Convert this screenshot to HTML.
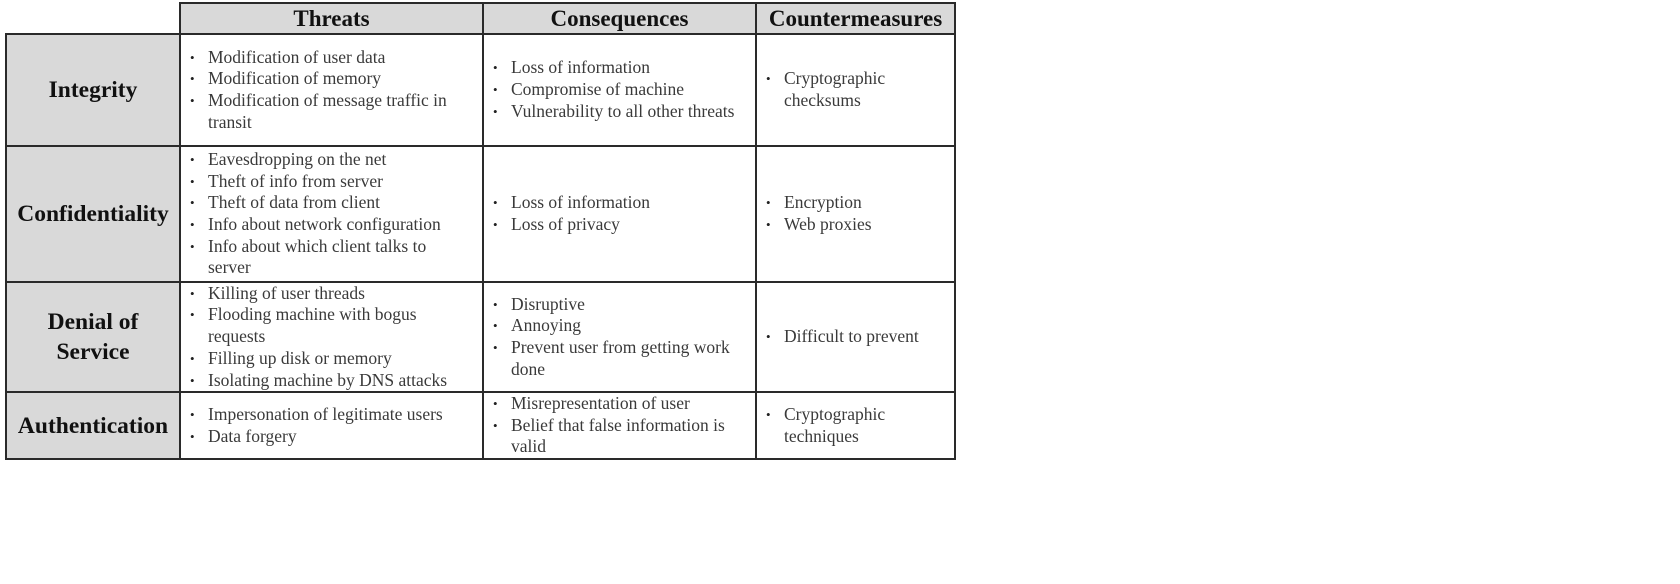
<!DOCTYPE html>
<html><head><meta charset="utf-8"><style>
body{margin:0;width:1680px;height:584px;background:#fff;position:relative;overflow:hidden;font-family:"Liberation Serif",serif;}
.c{position:absolute;box-sizing:border-box;border:2px solid #2a2a2a;display:flex;align-items:center;}
.g{background:#d9d9d9;justify-content:center;text-align:center;font-weight:bold;color:#111;font-size:23.5px;line-height:30px;}
.h{font-size:23px;}
.w{background:#fff;}
ul{margin:0;padding:0 0 0 27px;list-style:none;color:#3a3a3a;font-size:17.5px;line-height:21.7px;}
li{position:relative;}
li:before{content:"•";position:absolute;left:-18px;font-size:13px;color:#222;}
.t{width:265px}.q{width:238px}.m{width:122px}
</style></head><body>
<div class="c g h" style="left:179px;top:2px;width:305px;height:33px;">Threats</div>
<div class="c g h" style="left:482px;top:2px;width:275px;height:33px;">Consequences</div>
<div class="c g h" style="left:755px;top:2px;width:201px;height:33px;">Countermeasures</div>

<div class="c g" style="left:5px;top:33px;width:176px;height:114px;">Integrity</div>
<div class="c w" style="left:179px;top:33px;width:305px;height:114px;"><ul class="t"><li>Modification of user data</li><li>Modification of memory</li><li>Modification of message traffic in transit</li></ul></div>
<div class="c w" style="left:482px;top:33px;width:275px;height:114px;"><ul class="q"><li>Loss of information</li><li>Compromise of machine</li><li>Vulnerability to all other threats</li></ul></div>
<div class="c w" style="left:755px;top:33px;width:201px;height:114px;"><ul class="m"><li>Cryptographic checksums</li></ul></div>

<div class="c g" style="left:5px;top:145px;width:176px;height:138px;">Confidentiality</div>
<div class="c w" style="left:179px;top:145px;width:305px;height:138px;"><ul class="t"><li>Eavesdropping on the net</li><li>Theft of info from server</li><li>Theft of data from client</li><li>Info about network configuration</li><li>Info about which client talks to server</li></ul></div>
<div class="c w" style="left:482px;top:145px;width:275px;height:138px;"><ul class="q"><li>Loss of information</li><li>Loss of privacy</li></ul></div>
<div class="c w" style="left:755px;top:145px;width:201px;height:138px;"><ul class="m"><li>Encryption</li><li>Web proxies</li></ul></div>

<div class="c g" style="left:5px;top:281px;width:176px;height:112px;">Denial of<br>Service</div>
<div class="c w" style="left:179px;top:281px;width:305px;height:112px;"><ul class="t"><li>Killing of user threads</li><li>Flooding machine with bogus requests</li><li>Filling up disk or memory</li><li>Isolating machine by DNS attacks</li></ul></div>
<div class="c w" style="left:482px;top:281px;width:275px;height:112px;"><ul class="q"><li>Disruptive</li><li>Annoying</li><li>Prevent user from getting work done</li></ul></div>
<div class="c w" style="left:755px;top:281px;width:201px;height:112px;"><ul style="width:170px"><li>Difficult to prevent</li></ul></div>

<div class="c g" style="left:5px;top:391px;width:176px;height:69px;">Authentication</div>
<div class="c w" style="left:179px;top:391px;width:305px;height:69px;"><ul class="t"><li>Impersonation of legitimate users</li><li>Data forgery</li></ul></div>
<div class="c w" style="left:482px;top:391px;width:275px;height:69px;"><ul class="q"><li>Misrepresentation of user</li><li>Belief that false information is valid</li></ul></div>
<div class="c w" style="left:755px;top:391px;width:201px;height:69px;"><ul class="m"><li>Cryptographic techniques</li></ul></div>
</body></html>
